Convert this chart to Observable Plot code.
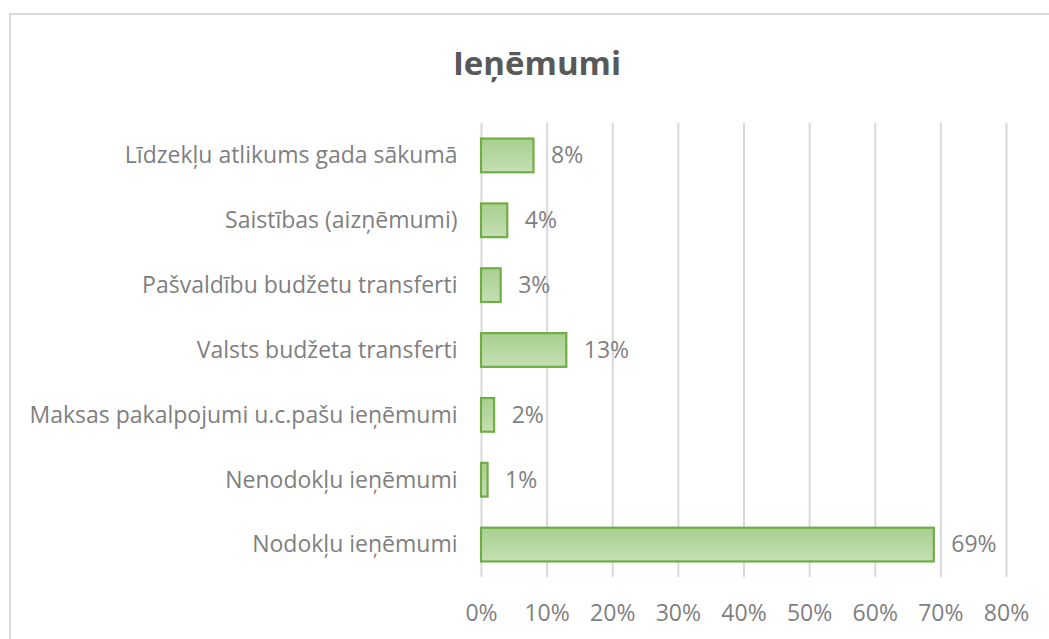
<!DOCTYPE html>
<html>
<head>
<meta charset="utf-8">
<script src="https://cdn.jsdelivr.net/npm/d3@7"></script>
<script src="https://cdn.jsdelivr.net/npm/@observablehq/plot@0.6"></script>
<style>
  html, body { margin: 0; padding: 0; background: #fff; overflow: hidden; width: 1049px; height: 639px; }
  #frame { position: absolute; left: 9px; top: 13px; width: 1100px; height: 700px; border: 2px solid #d9d9d9; box-sizing: border-box; }
  #title { position: absolute; left: 0; top: 43px; width: 1074px; text-align: center; font-family: "Open Sans", sans-serif; font-weight: 700; font-size: 33px; color: #595959; line-height: 40px; }
  #chart { position: absolute; left: 0; top: 0; }
</style>
</head>
<body>
<div id="frame"></div>
<div id="title">Ieņēmumi</div>
<div id="chart"></div>
<script>
const categories = [
  "Līdzekļu atlikums gada sākumā",
  "Saistības (aizņēmumi)",
  "Pašvaldību budžetu transferti",
  "Valsts budžeta transferti",
  "Maksas pakalpojumi u.c.pašu ieņēmumi",
  "Nenodokļu ieņēmumi",
  "Nodokļu ieņēmumi"
];
const values = [0.08, 0.04, 0.03, 0.13, 0.02, 0.01, 0.69];
const xTicks = [0, 0.1, 0.2, 0.3, 0.4, 0.5, 0.6, 0.7, 0.8];

const data = categories.map((c, i) => ({category: c, value: values[i]}));
const fmt = d3.format(".0%");

const plot = Plot.plot({
  width: 1049,
  height: 639,
  marginLeft: 481,
  marginRight: 43,
  marginTop: 123,
  marginBottom: 62,
  style: { fontFamily: "Open Sans, sans-serif", fontSize: "23px", color: "#7f7f7f", background: "transparent" },
  x: { domain: [0, 0.8], ticks: xTicks, tickFormat: fmt, tickSize: 0, tickPadding: 27, label: null },
  y: { domain: categories, paddingInner: 0.48, paddingOuter: 0.24, round: false, tickSize: 0, tickPadding: 24, label: null },
  marks: [
    Plot.ruleX(xTicks, { stroke: "#d9d9d9", strokeWidth: 2, strokeOpacity: 1 }),
    Plot.barX(data, { x: "value", y: "category", fill: "url(#barGrad)", stroke: "#70ad47", strokeWidth: 2.2 }),
    Plot.text(data, { x: "value", y: "category", text: d => fmt(d.value), dx: 17, textAnchor: "start", fill: "#7f7f7f", fontSize: 23 })
  ]
});

const svg = d3.select(plot);
const defs = svg.insert("defs", ":first-child");
const grad = defs.append("linearGradient").attr("id", "barGrad").attr("x1", 0).attr("y1", 0).attr("x2", 0).attr("y2", 1);
grad.append("stop").attr("offset", "0%").attr("stop-color", "#a9d08e");
grad.append("stop").attr("offset", "50%").attr("stop-color", "#b5d7a0");
grad.append("stop").attr("offset", "100%").attr("stop-color", "#c6e0b4");

document.getElementById("chart").appendChild(plot);
</script>
</body>
</html>
